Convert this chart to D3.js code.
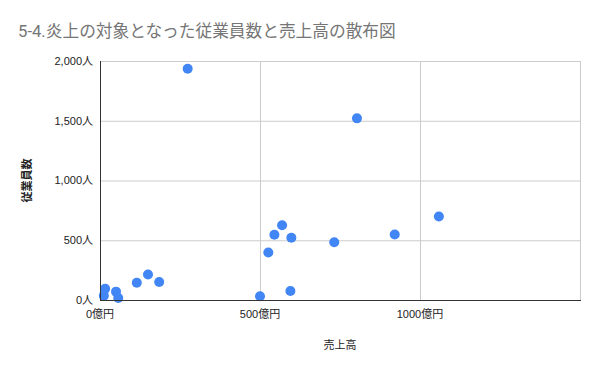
<!DOCTYPE html>
<html>
<head>
<meta charset="utf-8">
<script src="https://cdnjs.cloudflare.com/ajax/libs/d3/7.8.5/d3.min.js"></script>
<style>
  body { margin: 0; background: #fff; }
  text { font-family: "Liberation Sans", Arial, "Noto Sans CJK JP", sans-serif; }
</style>
</head>
<body>
<div id="mainDiv"></div>
<script>
'use strict';

// 売上高（億円）と従業員数（人）
var sales     = [274, 803, 1059, 921, 732, 569, 545, 598, 526, 595, 500, 16, 12, 50, 57, 115, 150, 185];
var employees = [1935, 1520, 699, 548, 484, 626, 546, 521, 398, 75, 31, 94, 35, 70, 17, 145, 214, 150];
var xTicks = [0, 500, 1000, 1500];
var xTickLabels = ['0億円', '500億円', '1000億円', ''];
var yTicks = [0, 500, 1000, 1500, 2000];

var myApp = {};
myApp.w = 600;
myApp.h = 371;
myApp.margins = {top: 61, bottom: 71, left: 100, right: 20};

myApp.run = function()
{
    var svg = d3.select('#mainDiv').append('svg')
        .attr('width', myApp.w)
        .attr('height', myApp.h);

    var x = d3.scaleLinear().domain([0, 1500])
        .range([myApp.margins.left, myApp.w - myApp.margins.right]);
    var y = d3.scaleLinear().domain([0, 2000])
        .range([myApp.h - myApp.margins.bottom, myApp.margins.top]);

    svg.append('text')
        .attr('x', 18)
        .attr('y', 37)
        .style('font-family', 'Roboto, "Noto Sans CJK JP", sans-serif')
        .style('font-size', '16.7px')
        .attr('fill', '#757575')
        .text('5-4.炎上の対象となった従業員数と売上高の散布図');

    // grid
    svg.append('g').selectAll('line')
        .data(yTicks.slice(1))
        .enter().append('line')
        .attr('x1', x(0)).attr('x2', x(1500))
        .attr('y1', function(d){ return y(d) + 0.5; })
        .attr('y2', function(d){ return y(d) + 0.5; })
        .attr('stroke', '#cccccc');

    svg.append('g').selectAll('line')
        .data(xTicks.slice(1))
        .enter().append('line')
        .attr('x1', function(d){ return x(d) + 0.5; })
        .attr('x2', function(d){ return x(d) + 0.5; })
        .attr('y1', y(0)).attr('y2', y(2000))
        .attr('stroke', '#cccccc');

    // y tick labels
    svg.append('g').selectAll('text')
        .data(yTicks)
        .enter().append('text')
        .attr('x', x(0) - 7)
        .attr('y', function(d){ return y(d); })
        .attr('dy', '0.35em')
        .attr('text-anchor', 'end')
        .style('font-size', '11px')
        .attr('fill', '#222')
        .text(function(d){ return d3.format(',')(d) + '人'; });

    // x tick labels
    svg.append('g').selectAll('text')
        .data(xTicks)
        .enter().append('text')
        .attr('x', function(d){ return x(d); })
        .attr('y', y(0) + 18)
        .attr('text-anchor', 'middle')
        .style('font-size', '11px')
        .attr('fill', '#222')
        .text(function(d, i){ return xTickLabels[i]; });

    // points
    svg.append('g').selectAll('circle')
        .data(sales)
        .enter().append('circle')
        .attr('cx', function(d){ return x(d); })
        .attr('cy', function(d, i){ return y(employees[i]); })
        .attr('r', 5)
        .attr('fill', '#4285f4');

    // axes lines
    svg.append('line')
        .attr('x1', x(0) + 0.5).attr('x2', x(0) + 0.5)
        .attr('y1', y(2000)).attr('y2', y(0))
        .attr('stroke', '#333');
    svg.append('line')
        .attr('x1', x(0)).attr('x2', x(1500) + 1)
        .attr('y1', y(0) + 0.5).attr('y2', y(0) + 0.5)
        .attr('stroke', '#333');

    // axis titles
    svg.append('text')
        .attr('x', (x(0) + x(1500)) / 2)
        .attr('y', 349)
        .attr('text-anchor', 'middle')
        .style('font-size', '11px')
        .attr('fill', '#222')
        .text('売上高');

    svg.append('text')
        .attr('transform', 'translate(31,' + ((y(0) + y(2000)) / 2) + ') rotate(-90)')
        .attr('text-anchor', 'middle')
        .style('font-size', '11px')
        .style('font-weight', 'bold')
        .attr('fill', '#222')
        .text('従業員数');
}

window.onload = myApp.run;
</script>
</body>
</html>
